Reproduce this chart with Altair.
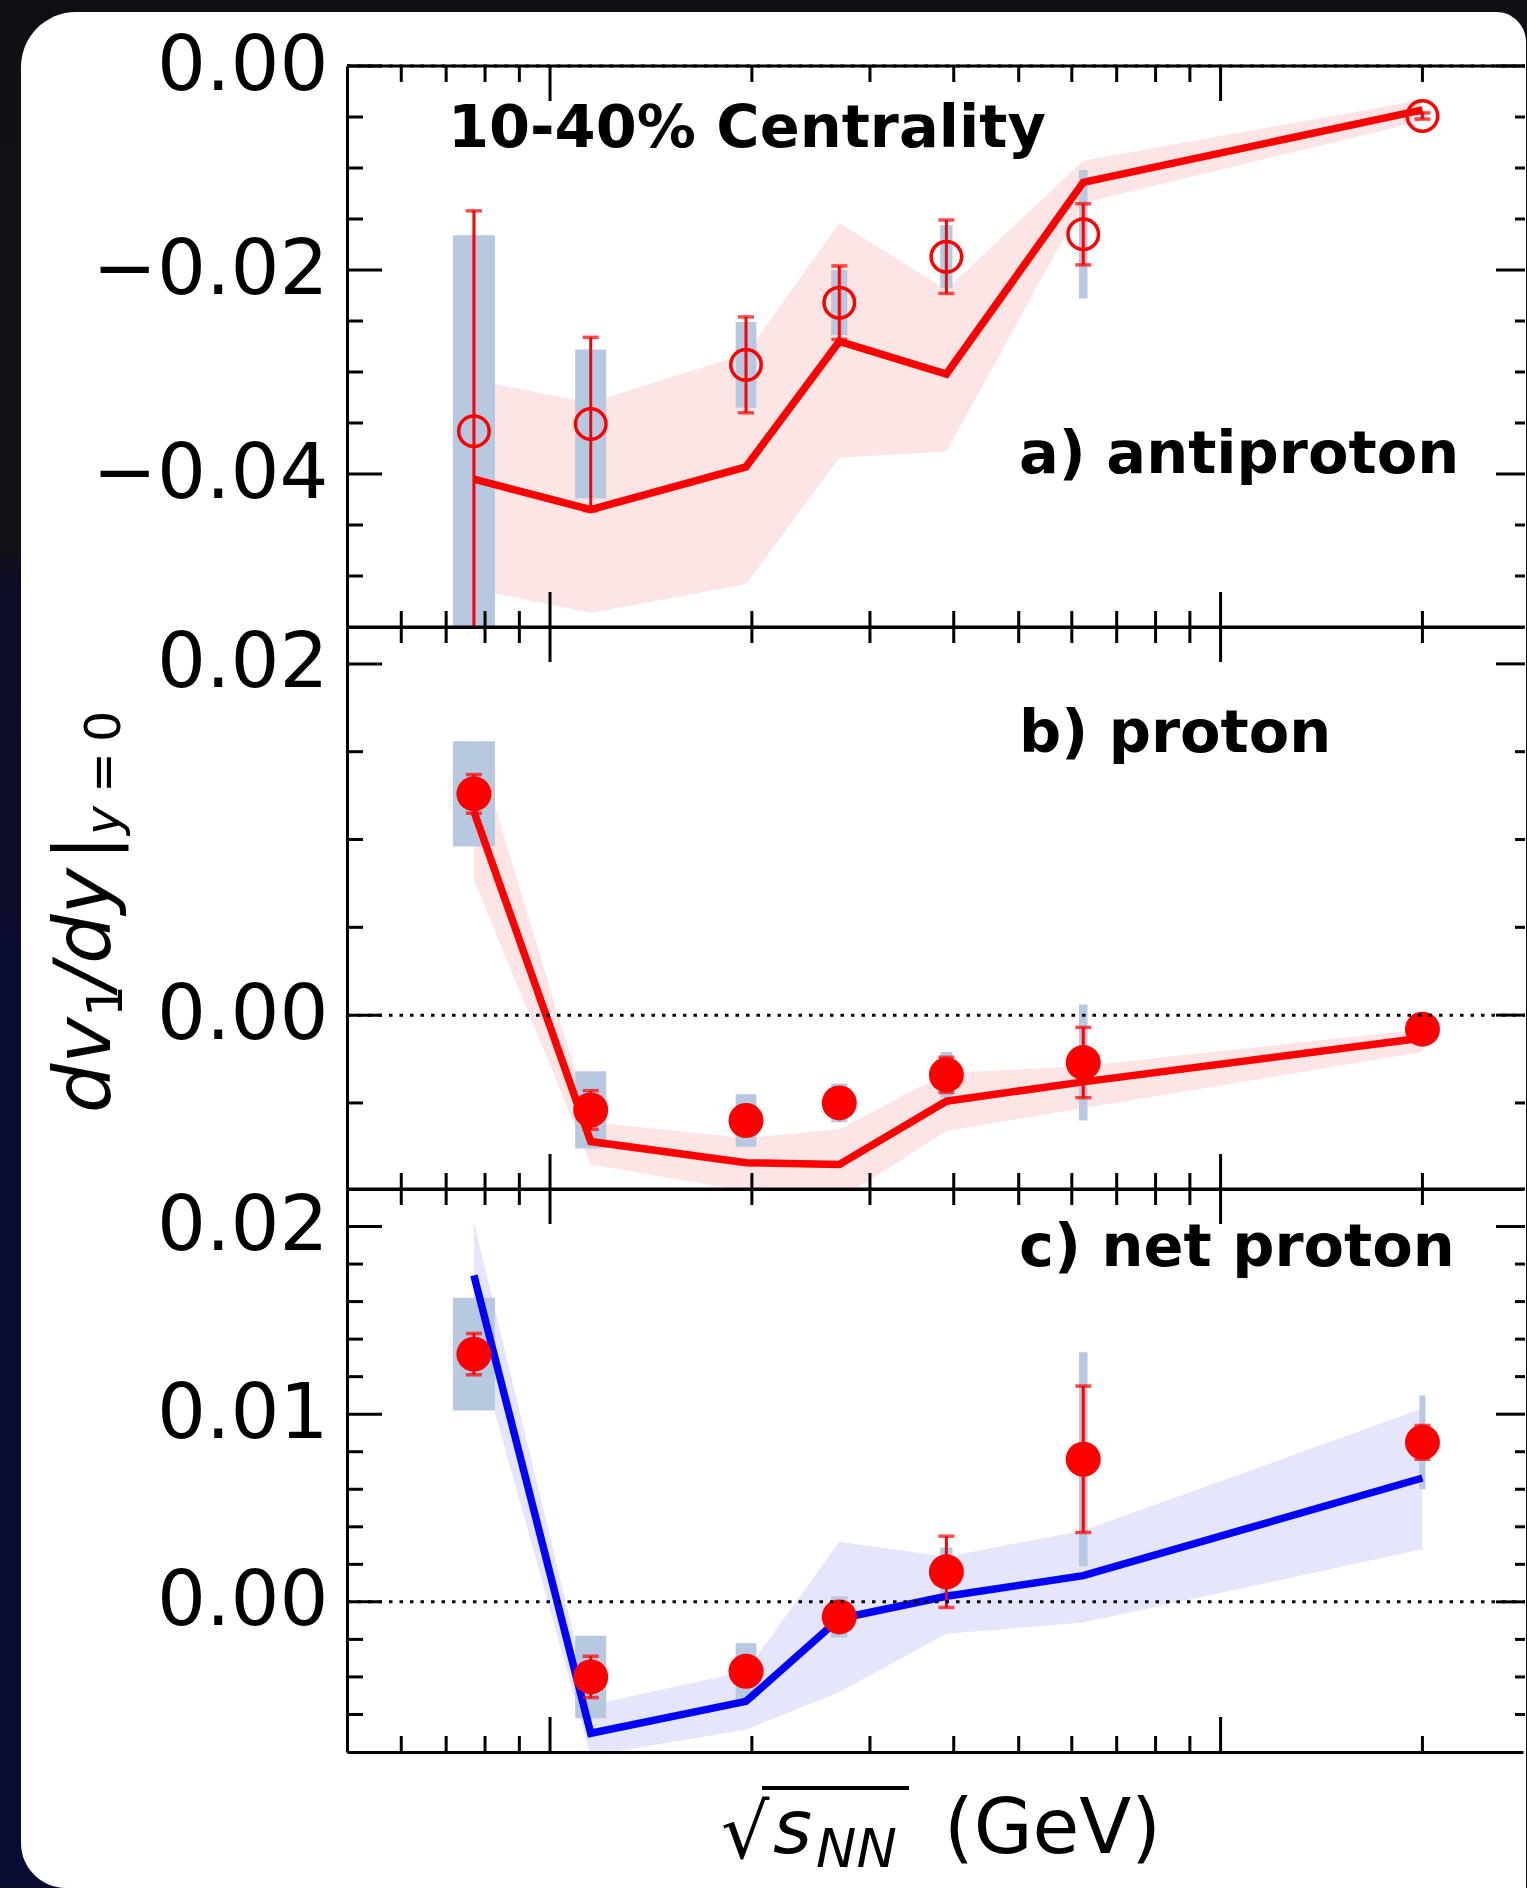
import altair as alt
import pandas as pd

# ---------------- data ----------------
energy = [7.7, 11.5, 19.6, 27.0, 39.0, 62.4, 200.0]

# a) antiproton
ap_val = [-0.0358, -0.0351, -0.0293, -0.0232, -0.0187, -0.0165, -0.0049]
ap_stat = [0.0216, 0.0085, 0.0047, 0.0036, 0.0036, 0.0030, 0.0003]
ap_sys = [0.0192, 0.0073, 0.0042, 0.0032, 0.0031, 0.0063, 0.0004]
ap_model = [-0.0405, -0.0435, -0.0393, -0.0270, -0.0302, -0.0114, -0.0043]
ap_model_lo = [-0.0513, -0.0536, -0.0508, -0.0384, -0.0378, -0.0134, -0.0054]
ap_model_hi = [-0.0308, -0.0330, -0.0282, -0.0154, -0.0219, -0.0093, -0.0033]

# b) proton
p_val = [0.0126, -0.0054, -0.0060, -0.0050, -0.0034, -0.0027, -0.0008]
p_stat = [0.0011, 0.0011, 0.0005, 0.0005, 0.0010, 0.0020, 0.0003]
p_sys = [0.0030, 0.0022, 0.0015, 0.0011, 0.0013, 0.0033, 0.0004]
p_model = [0.0116, -0.0072, -0.0084, -0.0085, -0.0049, -0.0038, -0.0013]
p_model_lo = [0.0077, -0.0085, -0.0100, -0.0105, -0.0066, -0.0053, -0.0021]
p_model_hi = [0.0158, -0.0061, -0.0070, -0.0065, -0.0033, -0.0029, -0.0008]

# c) net proton
np_val = [0.0132, -0.0040, -0.0037, -0.0008, 0.0016, 0.0076, 0.0085]
np_stat = [0.0011, 0.0011, 0.0005, 0.0005, 0.0019, 0.0039, 0.0009]
np_sys = [0.0030, 0.0022, 0.0015, 0.0011, 0.0013, 0.0057, 0.0025]
np_model = [0.0174, -0.0070, -0.0053, -0.0009, 0.0003, 0.0014, 0.0066]
np_model_lo = [0.0141, -0.0082, -0.0068, -0.0048, -0.0017, -0.0011, 0.0028]
np_model_hi = [0.0202, -0.0055, -0.0037, 0.0032, 0.0024, 0.0038, 0.0103]

# tick values
x_major = [10, 100]
x_minor = [6, 7, 8, 9, 20, 30, 40, 50, 60, 70, 80, 90, 200]
a_y_major = [0.0, -0.02, -0.04]
a_y_minor = [-0.005, -0.01, -0.015, -0.025, -0.03, -0.035, -0.045, -0.05]
b_y_major = [0.02, 0.0]
b_y_minor = [0.015, 0.01, 0.005, -0.005]
c_y_major = [0.02, 0.01, 0.0]
c_y_minor = [0.018, 0.016, 0.014, 0.012, 0.008, 0.006, 0.004, 0.002,
             -0.002, -0.004, -0.006]

# ---------------- style ----------------
W = 1176
FONT = "DejaVu Sans"
RED = "#ff0000"
BLUE = "#0000ff"
BOX = "#b7c9e1"
PINK = "#fde5e5"
LAV = "#e5e5fc"
XSCALE = alt.Scale(type="log", domain=[4.98, 282.5], nice=False)
XAXIS = alt.Axis(labels=False, ticks=False, domain=True, domainColor="black",
                 domainWidth=3, grid=False, title=None, zindex=1)
dummy = pd.DataFrame({"d": [0]})


def txt(s, x, y, size, **kw):
    props = dict(text=s, font=FONT, fontSize=size, align="left",
                 baseline="alphabetic", color="black")
    props.update(kw)
    return alt.Chart(dummy).mark_text(**props).encode(x=alt.value(x), y=alt.value(y))


def series_df(val, stat, sys, model, lo, hi):
    return pd.DataFrame({"e": energy, "v": val, "stat": stat, "sys": sys,
                         "m": model, "lo": lo, "hi": hi})


def panel(H, ydom, ymaj, ymin, df, band_color, line_color, filled, pre=(), post=()):
    ys = alt.Scale(domain=ydom, nice=False, zero=False)
    yaxis = alt.Axis(values=ymaj, format=".2f", labelFont=FONT, labelFontSize=77,
                     labelColor="black", labelPadding=19, labelLimit=500, ticks=False,
                     domain=True, domainColor="black", domainWidth=3, grid=False,
                     title=None, zindex=1, labelOverlap=False, labelFlush=False)

    def X(f):
        return alt.X(f"{f}:Q", scale=XSCALE, axis=XAXIS)

    def Y(f):
        return alt.Y(f"{f}:Q", scale=ys, axis=yaxis)

    hw = "max(0.0314 * pow(7.7 / datum.e, 0.76), 0.0045)"
    base = alt.Chart(df).transform_calculate(
        elo="datum.v - datum.stat", ehi="datum.v + datum.stat",
        slo="datum.v - datum.sys", shi="datum.v + datum.sys",
        xl=f"datum.e * pow(10, -{hw})", xh=f"datum.e * pow(10, {hw})",
    )
    layers = list(pre)
    band = base.mark_area(color=band_color, opacity=1, clip=True).encode(
        x=X("e"), y=Y("lo"), y2="hi:Q")
    box = base.mark_rect(color=BOX, opacity=1, clip=True).encode(
        x=X("xl"), x2="xh:Q", y=Y("slo"), y2="shi:Q")
    line = base.mark_line(color=line_color, strokeWidth=7.5, clip=True).encode(
        x=X("e"), y=Y("m"))
    err = base.mark_rule(color=RED, strokeWidth=3, clip=True).encode(
        x=X("e"), y=Y("elo"), y2="ehi:Q")
    cap_lo = base.mark_tick(color=RED, orient="horizontal", size=16, thickness=3.5,
                            clip=True).encode(x=X("e"), y=Y("elo"))
    cap_hi = base.mark_tick(color=RED, orient="horizontal", size=16, thickness=3.5,
                            clip=True).encode(x=X("e"), y=Y("ehi"))
    if filled:
        mk = base.mark_circle(color=RED, size=1225, opacity=1).encode(x=X("e"), y=Y("v"))
    else:
        mk = base.mark_point(shape="circle", filled=False, color=RED, strokeWidth=3.5,
                             size=930, opacity=1).encode(x=X("e"), y=Y("v"))
    zero = alt.Chart(pd.DataFrame({"z": [0.0]})).mark_rule(
        color="black", strokeWidth=3, strokeDash=[3.5, 7]).encode(
        y=Y("z"), x=alt.value(0), x2=alt.value(W + 2))
    layers += [band, box, line, err, cap_lo, cap_hi, mk, zero]

    # inward ticks on all four sides
    for vals, L in ((ymaj, 35), (ymin, 16)):
        d = pd.DataFrame({"t": vals})
        layers.append(alt.Chart(d).mark_rule(color="black", strokeWidth=3).encode(
            y=Y("t"), x=alt.value(0), x2=alt.value(L)))
        layers.append(alt.Chart(d).mark_rule(color="black", strokeWidth=3).encode(
            y=Y("t"), x=alt.value(W + 2 - (L - 6)), x2=alt.value(W + 2)))
    for vals, L in ((x_major, 35), (x_minor, 16)):
        d = pd.DataFrame({"t": vals})
        layers.append(alt.Chart(d).mark_rule(color="black", strokeWidth=3).encode(
            x=X("t"), y=alt.value(0), y2=alt.value(L)))
        layers.append(alt.Chart(d).mark_rule(color="black", strokeWidth=3).encode(
            x=X("t"), y=alt.value(H - L), y2=alt.value(H)))
    # top spine
    layers.append(alt.Chart(dummy).mark_rule(color="black", strokeWidth=3).encode(
        x=alt.value(0), x2=alt.value(W + 2), y=alt.value(0)))
    layers += list(post)
    return alt.layer(*layers).properties(width=W, height=H)


# ---------------- page decoration (panel a coordinates) ----------------
bg = alt.Chart(dummy).mark_rect(
    color=alt.LinearGradient(
        gradient="linear", x1=0, x2=0, y1=0, y2=1,
        stops=[alt.GradientStop(color="#101014", offset=0),
               alt.GradientStop(color="#101016", offset=0.29),
               alt.GradientStop(color="#0c0c26", offset=0.31),
               alt.GradientStop(color="#0c0c2a", offset=0.48),
               alt.GradientStop(color="#0a0b33", offset=0.5),
               alt.GradientStop(color="#0a0b33", offset=1)])
).encode(x=alt.value(-347), x2=alt.value(1179), y=alt.value(-66), y2=alt.value(1822))
card = alt.Chart(dummy).mark_rect(
    color="white", cornerRadiusTopLeft=55, cornerRadiusTopRight=30,
    cornerRadiusBottomLeft=45, cornerRadiusBottomRight=0
).encode(x=alt.value(-326), x2=alt.value(1179), y=alt.value(-54), y2=alt.value(1822))

pa = panel(561, [-0.055, 0.0], a_y_major, a_y_minor,
           series_df(ap_val, ap_stat, ap_sys, ap_model, ap_model_lo, ap_model_hi),
           PINK, RED, False, pre=[bg, card],
           post=[txt("10-40% Centrality", 101, 81, 59, fontWeight="bold"),
                 txt("a) antiproton", 672, 407, 59, fontWeight="bold")])

ytitle = [
    txt("dv", -237, 486, 78, angle=270, fontStyle="italic"),
    txt("1", -225, 390, 50, angle=270),
    txt("/dy", -237, 363, 78, angle=270, fontStyle="italic"),
    txt("|", -237, 234, 78, angle=270),
    txt("y", -227, 208, 49, angle=270, fontStyle="italic"),
    txt("=", -227, 166, 49, angle=270),
    txt("0", -227, 115, 49, angle=270),
]
pb = panel(562, [-0.0099, 0.0221], b_y_major, b_y_minor,
           series_df(p_val, p_stat, p_sys, p_model, p_model_lo, p_model_hi),
           PINK, RED, True,
           post=[txt("b) proton", 672, 125, 59, fontWeight="bold")] + ytitle)

xtitle = [
    txt("\u221a", 374, 669, 76),
    alt.Chart(dummy).mark_rule(color="black", strokeWidth=4).encode(
        x=alt.value(415), x2=alt.value(562), y=alt.value(599)),
    txt("s", 426, 664, 75, fontStyle="italic"),
    txt("NN", 469, 678, 54, fontStyle="italic"),
    txt("(GeV)", 597, 664, 76),
]
pc = panel(563, [-0.008, 0.022], c_y_major, c_y_minor,
           series_df(np_val, np_stat, np_sys, np_model, np_model_lo, np_model_hi),
           LAV, BLUE, True,
           post=[txt("c) net proton", 672, 76.5, 59, fontWeight="bold")] + xtitle)

chart = alt.vconcat(pa, pb, pc, spacing=0, bounds="flush").properties(
    padding=0, background="#0d0d16"
).configure_view(strokeWidth=0)

chart.save("out.html", embed_options={"renderer": "svg", "actions": False})
